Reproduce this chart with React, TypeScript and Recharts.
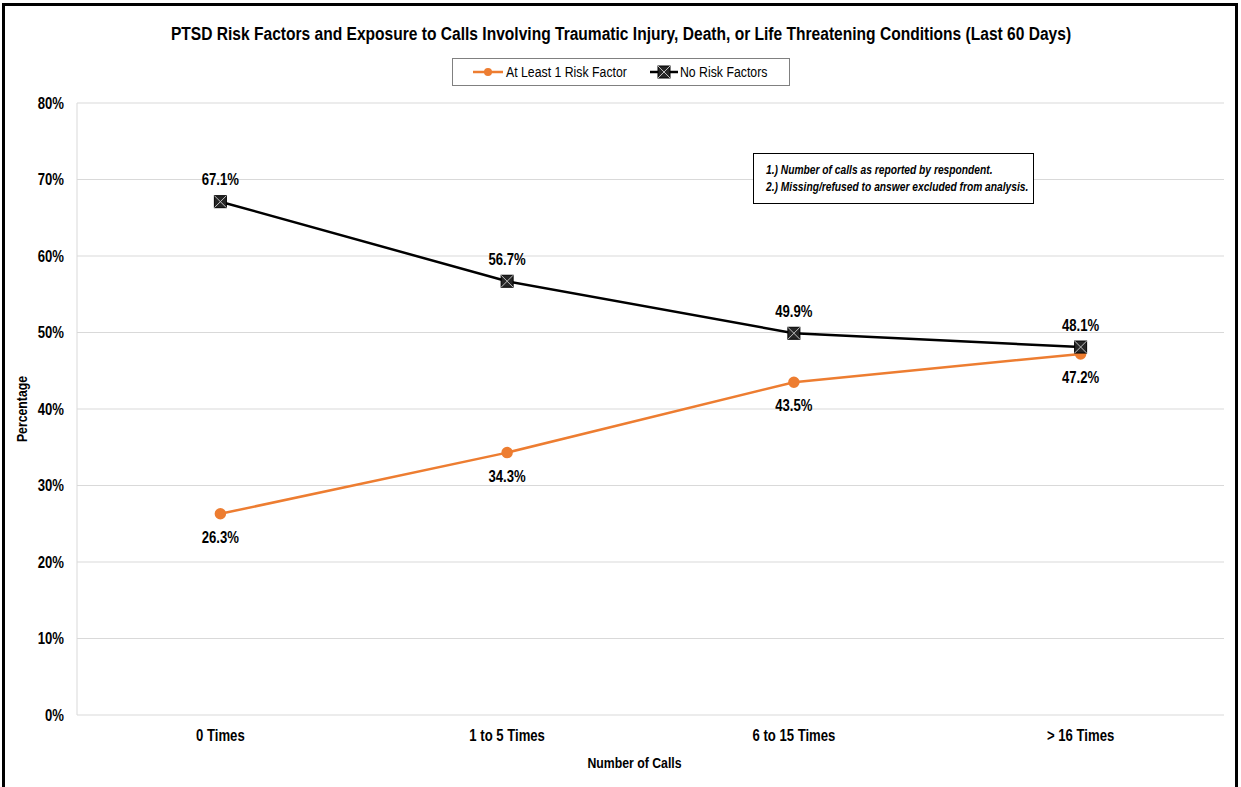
import { LineChart, Line, XAxis, YAxis, CartesianGrid, LabelList, Label } from "recharts";

const categories = ["0 Times", "1 to 5 Times", "6 to 15 Times", "> 16 Times"];
const atLeastOneRisk = [26.3, 34.3, 43.5, 47.2];
const noRiskFactors = [67.1, 56.7, 49.9, 48.1];
const yTicks = [0, 10, 20, 30, 40, 50, 60, 70, 80];

const data = categories.map((name, i) => ({
  name,
  risk: atLeastOneRisk[i],
  none: noRiskFactors[i],
}));

const FONT = "'Liberation Sans', Arial, sans-serif";
const ORANGE = "#ED7D31";
const SQUEEZE = 0.82; // fake Arial Narrow by squeezing Liberation Sans

const fmt = (v: number) => `${v.toFixed(1)}%`;

// svg text squeezed horizontally around its anchor point
function NarrowText({
  x,
  y,
  children,
  anchor = "middle",
  size = 16,
  weight = "bold",
  rotate = 0,
  italic = false,
}: {
  x: number;
  y: number;
  children: any;
  anchor?: "start" | "middle" | "end";
  size?: number;
  weight?: string;
  rotate?: number;
  italic?: boolean;
}) {
  return (
    <g transform={`translate(${x},${y}) rotate(${rotate}) scale(${SQUEEZE},1)`}>
      <text
        x={0}
        y={0}
        textAnchor={anchor}
        fontFamily={FONT}
        fontSize={size}
        fontWeight={weight}
        fontStyle={italic ? "italic" : "normal"}
        fill="#000"
      >
        {children}
      </text>
    </g>
  );
}

// square marker with an X across it
function BoxX({ cx, cy }: { cx?: number; cy?: number }) {
  if (cx == null || cy == null) return null;
  const s = 6;
  return (
    <g>
      <rect x={cx - s} y={cy - s} width={s * 2} height={s * 2} fill="#262626" stroke="#000" strokeWidth={1} />
      <line x1={cx - s} y1={cy - s} x2={cx + s} y2={cy + s} stroke="#bfbfbf" strokeWidth={1} />
      <line x1={cx - s} y1={cy + s} x2={cx + s} y2={cy - s} stroke="#bfbfbf" strokeWidth={1} />
    </g>
  );
}

const XTick = (p: any) => (
  <NarrowText x={p.x} y={p.y + 12}>
    {p.payload.value}
  </NarrowText>
);

const YTick = (p: any) => (
  <NarrowText x={p.x} y={p.y + 5.5} anchor="end">
    {`${p.payload.value}%`}
  </NarrowText>
);

const labelAbove = (p: any) => (
  <NarrowText key={`a${p.index}`} x={p.x} y={p.y - 16.5}>
    {fmt(Number(p.value))}
  </NarrowText>
);

const labelBelow = (p: any) => (
  <NarrowText key={`b${p.index}`} x={p.x} y={p.y + 29}>
    {fmt(Number(p.value))}
  </NarrowText>
);

function LegendBox() {
  return (
    <svg width={338} height={28} style={{ position: "absolute", left: 452, top: 58 }}>
      <rect x={0.5} y={0.5} width={337} height={27} fill="#fff" stroke="#808080" />
      <line x1={21} y1={14} x2={51} y2={14} stroke={ORANGE} strokeWidth={2.5} />
      <circle cx={36} cy={14} r={4} fill={ORANGE} />
      <NarrowText x={54} y={19} anchor="start" size={15} weight="normal">
        At Least 1 Risk Factor
      </NarrowText>
      <line x1={198} y1={14} x2={226} y2={14} stroke="#000" strokeWidth={2.5} />
      <BoxX cx={212} cy={14} />
      <NarrowText x={228} y={19} anchor="start" size={15} weight="normal">
        No Risk Factors
      </NarrowText>
    </svg>
  );
}

export default function App() {
  return (
    <div style={{ position: "relative", width: 1241, height: 787, background: "#fff", overflow: "hidden" }}>
      <style>{`body{margin:0}`}</style>
      <div
        style={{
          position: "absolute",
          left: 2,
          top: 3,
          width: 1236,
          height: 820,
          border: "3px solid #000",
          boxSizing: "border-box",
        }}
      />
      <LineChart
        width={1241}
        height={787}
        data={data}
        margin={{ top: 103, right: 17, left: 0, bottom: 0 }}
        style={{ position: "absolute", left: 0, top: 0 }}
      >
        <CartesianGrid vertical={false} stroke="#d9d9d9" />
        <XAxis
          dataKey="name"
          scale="band"
          height={72}
          axisLine={false}
          tickLine={false}
          tickSize={0}
          tickMargin={14}
          tick={XTick}
        >
          <Label
            content={(p: any) => (
              <NarrowText x={p.viewBox.x + p.viewBox.width / 2 - 16} y={p.viewBox.y + 52.5} size={15}>
                Number of Calls
              </NarrowText>
            )}
          />
        </XAxis>
        <YAxis
          width={77}
          domain={[0, 80]}
          ticks={yTicks}
          interval={0}
          axisLine={{ stroke: "#d9d9d9" }}
          tickLine={false}
          tickSize={0}
          tickMargin={13}
          tick={YTick}
        >
          <Label
            content={(p: any) => (
              <NarrowText x={p.viewBox.x + 27} y={p.viewBox.y + p.viewBox.height / 2} size={15} rotate={-90}>
                Percentage
              </NarrowText>
            )}
          />
        </YAxis>
        <YAxis
          yAxisId="right"
          orientation="right"
          width={0}
          domain={[0, 80]}
          tick={false}
          tickLine={false}
          axisLine={{ stroke: "#d9d9d9" }}
        />
        <Line
          dataKey="risk"
          name="At Least 1 Risk Factor"
          stroke={ORANGE}
          strokeWidth={2.5}
          dot={{ r: 4.5, fill: ORANGE, stroke: ORANGE }}
          isAnimationActive={false}
        >
          <LabelList dataKey="risk" content={labelBelow} />
        </Line>
        <Line
          dataKey="none"
          name="No Risk Factors"
          stroke="#000"
          strokeWidth={2.5}
          dot={(p: any) => <BoxX key={p.index} cx={p.cx} cy={p.cy} />}
          isAnimationActive={false}
        >
          <LabelList dataKey="none" content={labelAbove} />
        </Line>
      </LineChart>
      <svg width={1241} height={60} style={{ position: "absolute", left: 0, top: 0 }}>
        <NarrowText x={621} y={40} size={19}>
          PTSD Risk Factors and Exposure to Calls Involving Traumatic Injury, Death, or Life Threatening Conditions (Last 60 Days)
        </NarrowText>
      </svg>
      <LegendBox />
      <svg width={281} height={51} style={{ position: "absolute", left: 753, top: 153 }}>
        <rect x={0.5} y={0.5} width={280} height={50} fill="#fff" stroke="#000" />
        <NarrowText x={13} y={21} anchor="start" size={12.5} italic>
          1.) Number of calls as reported by respondent.
        </NarrowText>
        <NarrowText x={13} y={38} anchor="start" size={12.5} italic>
          2.) Missing/refused to answer excluded from analysis.
        </NarrowText>
      </svg>
    </div>
  );
}
